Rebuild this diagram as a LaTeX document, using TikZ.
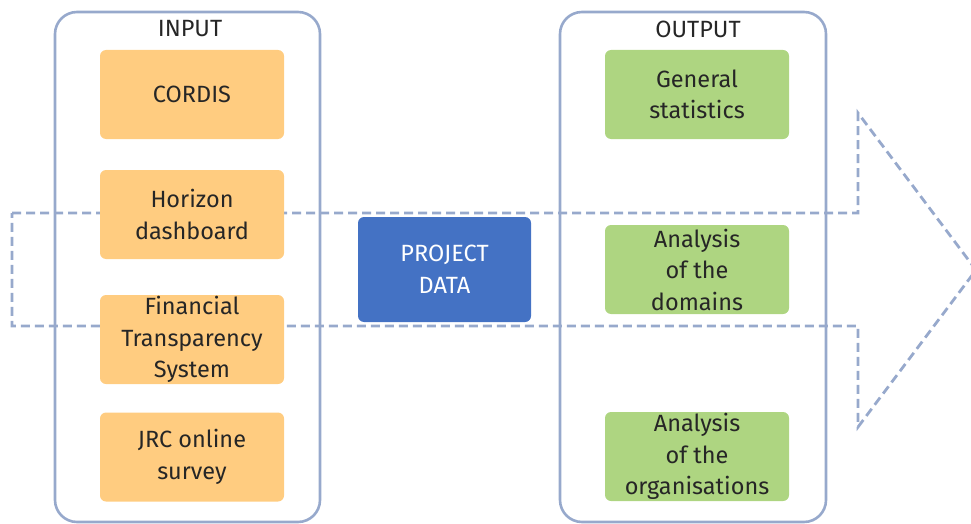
\documentclass[tikz,border=0pt]{standalone}
\usepackage{fontspec}
\setmainfont{Fira Sans}
\begin{document}
\definecolor{frame}{HTML}{97A9CC}
\definecolor{srcfill}{HTML}{FFCC80}
\definecolor{outfill}{HTML}{AED581}
\definecolor{datafill}{HTML}{4472C4}
\definecolor{ink}{HTML}{262626}
\tikzset{
  panel/.style={draw=frame, line width=2.6pt, rounded corners=22pt},
  flow/.style={draw=frame, line width=2.8pt, dash pattern=on 9pt off 5pt},
  box/.style={rounded corners=6pt, minimum width=184pt, minimum height=89pt,
    align=center, text=ink, inner sep=0pt,
    font=\fontsize{23.5}{31.5}\selectfont},
  srcbox/.style={box, fill=srcfill},
  outbox/.style={box, fill=outfill},
  databox/.style={box, fill=datafill, text=white, minimum width=173pt, minimum height=105pt},
  title/.style={text=ink, font=\fontsize{23.5}{26}\selectfont, inner sep=0pt}
}
\begin{tikzpicture}[x=1pt, y=-1pt]
\useasboundingbox (0,0) rectangle (971,524);
% dashed block arrow behind everything
\begin{scope}
\clip (0,0) rectangle (971,524);
\draw[flow] (12,213) -- (858,213) -- (858,113) -- (976,270) -- (858,427)
  -- (858,326) -- (12,326) -- cycle;
\end{scope}
% input and output panels
\draw[panel] (55,12) rectangle (320,522);
\draw[panel] (560,12) rectangle (826,522);
\node[title] (input) at (190,29) {INPUT};
\node[title] (output) at (698,29) {OUTPUT};
% sources
\node[srcbox] (cordis) at (192,94.5) {CORDIS};
\node[srcbox] (horizon) at (192,214.5) {Horizon\\dashboard};
\node[srcbox] (fts) at (192,339.5) {Financial\\Transparency\\System};
\node[srcbox] (jrc) at (192,457) {JRC online\\survey};
% central data
\node[databox] (data) at (444.5,269.5) {PROJECT\\DATA};
% outputs
\node[outbox] (stats) at (697,94.5) {General\\statistics};
\node[outbox] (domains) at (697,269.5) {Analysis\\of the\\domains};
\node[outbox] (orgs) at (697,456.5) {Analysis\\of the\\organisations};
\end{tikzpicture}
\end{document}
